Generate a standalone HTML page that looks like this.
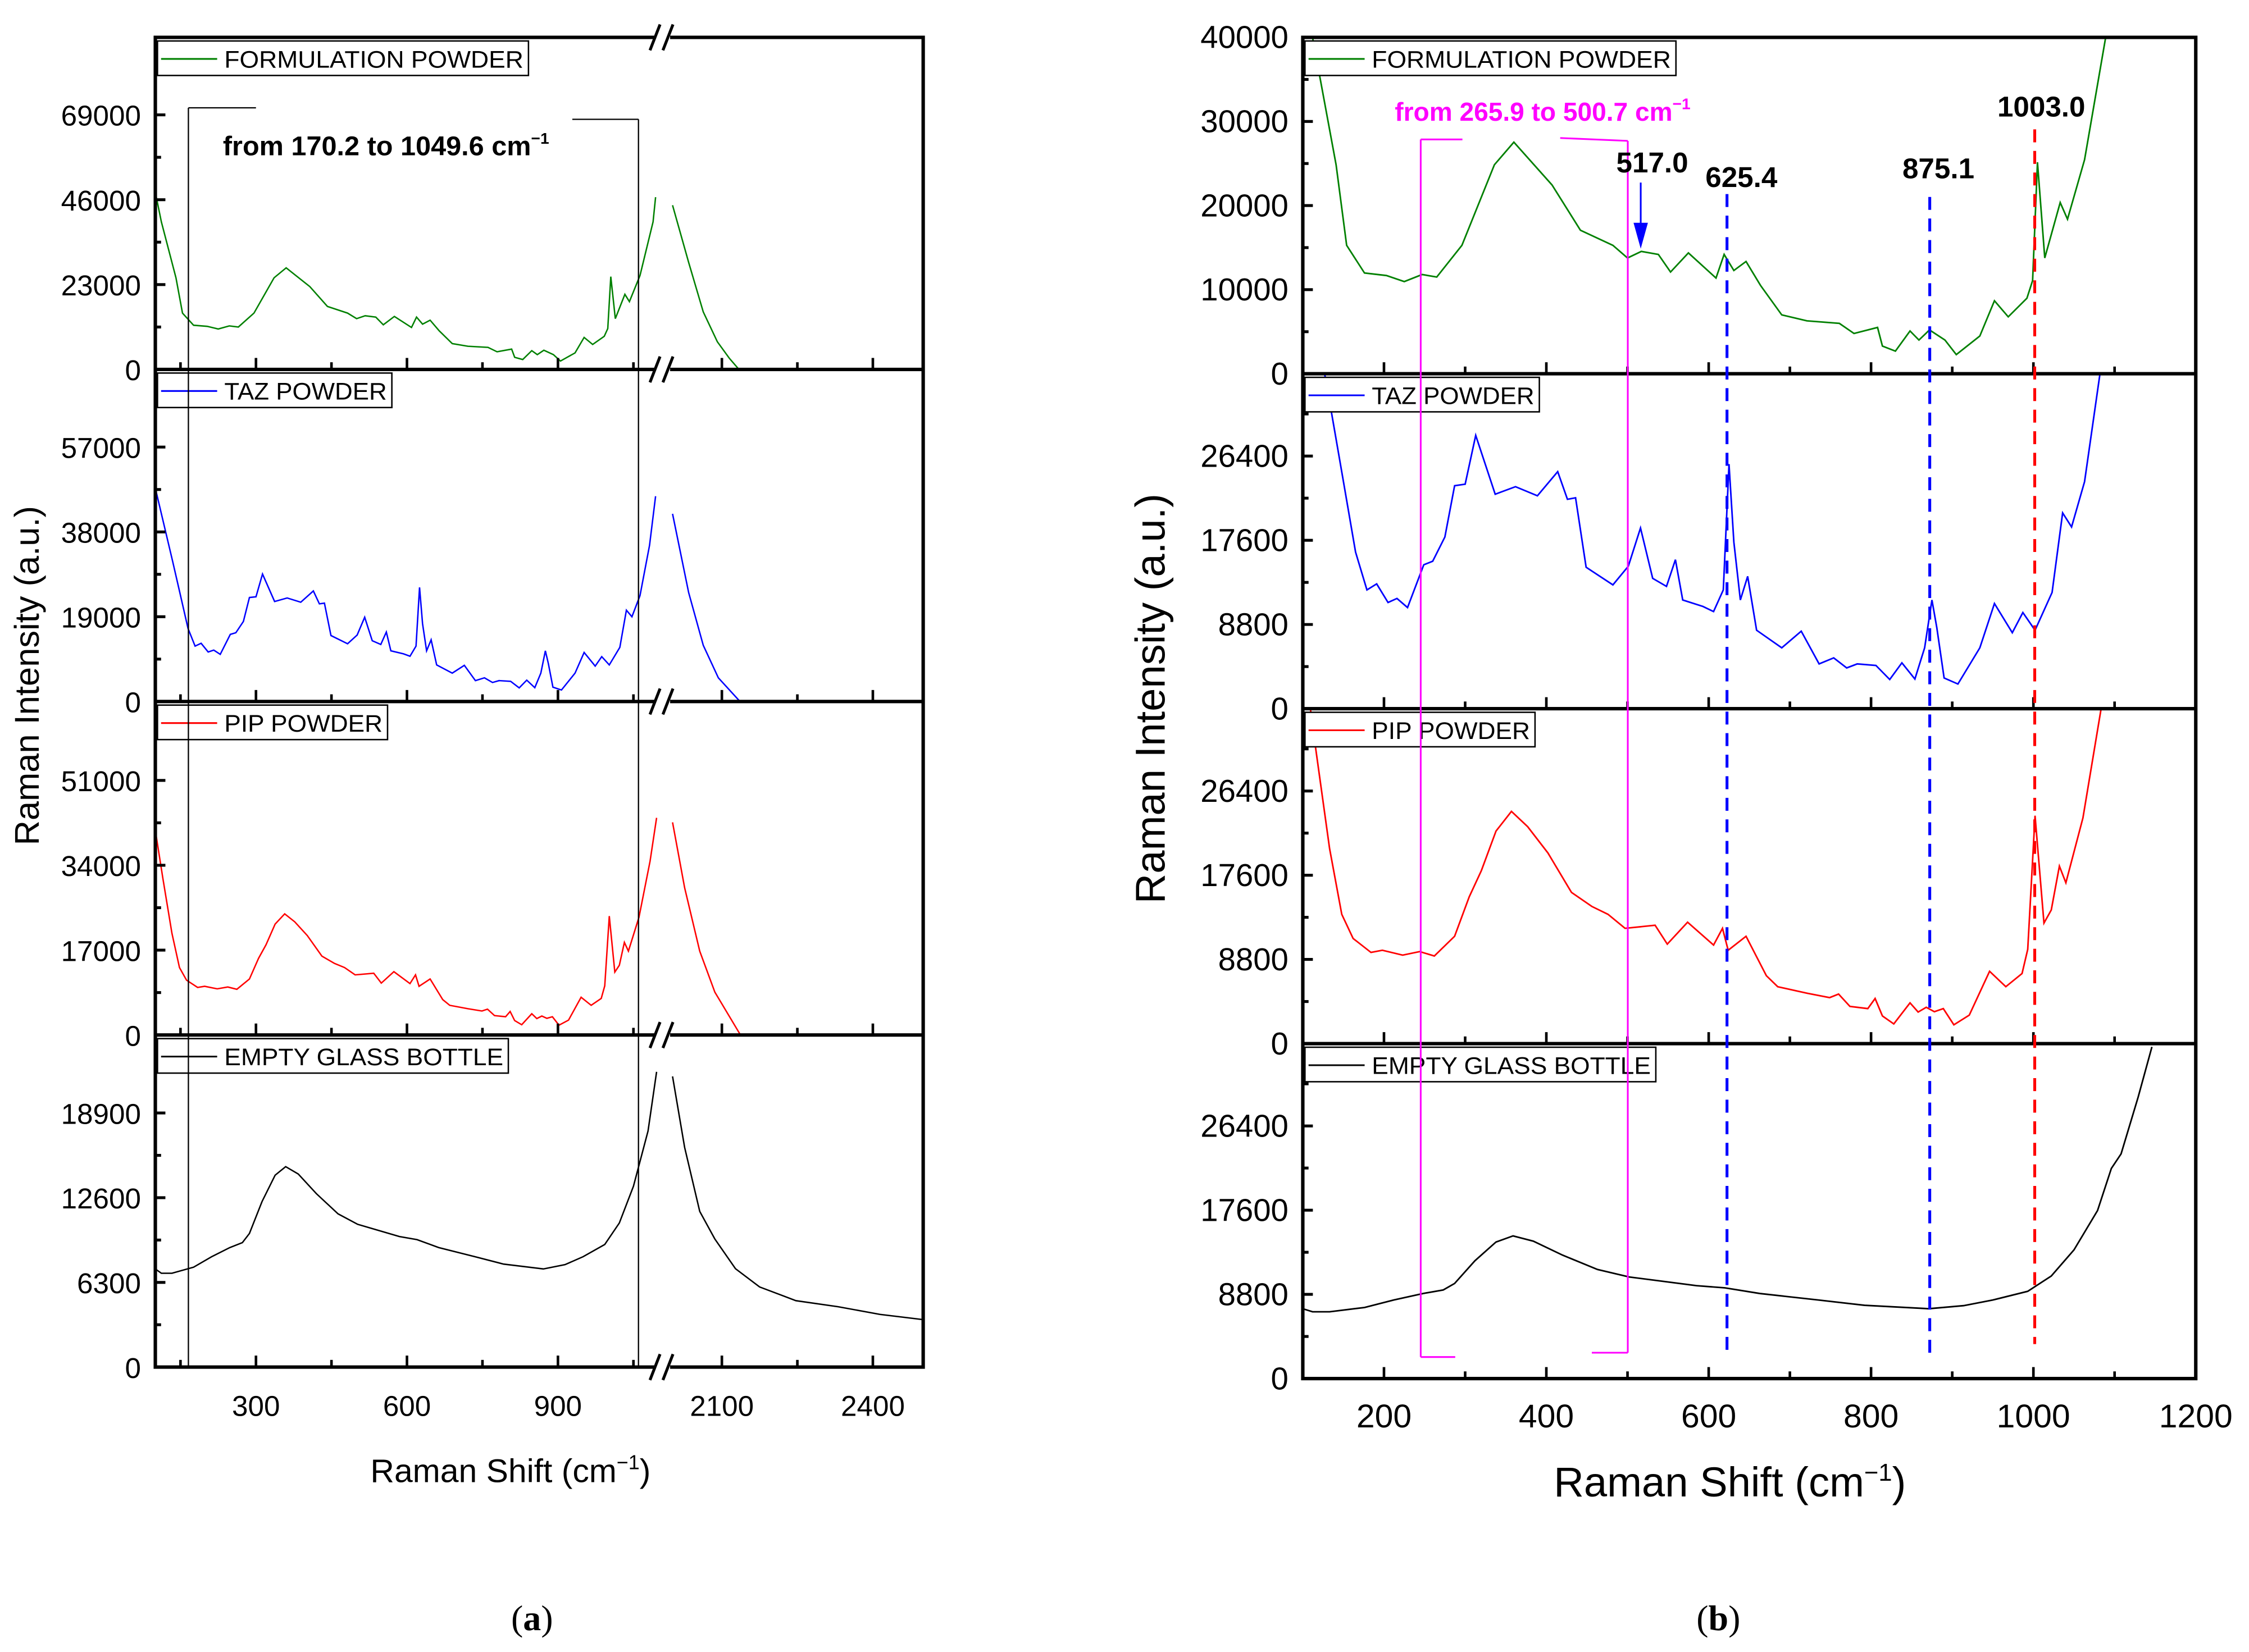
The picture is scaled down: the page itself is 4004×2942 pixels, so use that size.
<!DOCTYPE html>
<html><head><meta charset="utf-8"><style>
html,body{margin:0;padding:0;background:#fff;}
svg{display:block;}
text{font-family:"Liberation Sans",Arial,sans-serif;}
</style></head><body>
<svg id="fig" xmlns="http://www.w3.org/2000/svg" width="4004" height="2942" viewBox="0 0 1564 1149.2">
<rect x="0" y="0" width="1564" height="1149.2" fill="#fff"/>
<defs>
<clipPath id="cl1"><rect x="108" y="26" width="534" height="231"/></clipPath>
<clipPath id="cl2"><rect x="108" y="257" width="534" height="231"/></clipPath>
<clipPath id="cl3"><rect x="108" y="488" width="534" height="232"/></clipPath>
<clipPath id="cl4"><rect x="108" y="720" width="534" height="231"/></clipPath>
<clipPath id="cr1"><rect x="906" y="26" width="621" height="234"/></clipPath>
<clipPath id="cr2"><rect x="906" y="260" width="621" height="233"/></clipPath>
<clipPath id="cr3"><rect x="906" y="493" width="621" height="233"/></clipPath>
<clipPath id="cr4"><rect x="906" y="726" width="621" height="233"/></clipPath>
</defs>
<g id="layer-curves"></g>
<g id="layer-axes"></g>

<g stroke="#000" stroke-width="0.9" fill="none">
<line x1="131" y1="75" x2="131" y2="951"/><line x1="131" y1="75" x2="178" y2="75"/>
<line x1="444" y1="83" x2="444" y2="951"/><line x1="398" y1="83" x2="444" y2="83"/>
</g>
<text x="155" y="108" font-size="19" font-weight="bold">from 170.2  to 1049.6 cm<tspan font-size="11" dy="-8">−1</tspan></text>

<g stroke="#ff00ff" stroke-width="1.2" fill="none">
<line x1="988" y1="97" x2="988" y2="944"/><line x1="988" y1="97" x2="1017" y2="97"/><line x1="988" y1="944" x2="1012" y2="944"/>
<line x1="1132" y1="98" x2="1132" y2="941"/><line x1="1085" y1="96" x2="1132" y2="98"/><line x1="1107" y1="941" x2="1132" y2="941"/>
</g>
<text x="970" y="84" font-size="18" font-weight="bold" fill="#ff00ff">from 265.9 to 500.7 cm<tspan font-size="11" dy="-8">−1</tspan></text>
<g fill="none" stroke-width="2" stroke-dasharray="9,6">
<line x1="1201" y1="135" x2="1201" y2="940" stroke="#0000ff"/>
<line x1="1342" y1="137" x2="1342" y2="942" stroke="#0000ff"/>
<line x1="1415" y1="90" x2="1415" y2="935" stroke="#ff0000"/>
</g>
<g><line x1="1141" y1="127" x2="1141" y2="160" stroke="#0000ff" stroke-width="1.2"/><polygon points="1136,155 1146,155 1141,173" fill="#0000ff"/></g>
<g font-size="20" font-weight="bold">
<text x="1124" y="120">517.0</text>
<text x="1186" y="130">625.4</text>
<text x="1323" y="124">875.1</text>
<text x="1389" y="81">1003.0</text>
</g>

<text x="355" y="1031" font-size="23" text-anchor="middle">Raman Shift (cm<tspan font-size="14" dy="-9">−1</tspan><tspan dy="9">)</tspan></text>
<text transform="translate(27,470) rotate(-90)" font-size="24" text-anchor="middle">Raman Intensity (a.u.)</text>
<text x="1203" y="1041" font-size="29" text-anchor="middle">Raman Shift (cm<tspan font-size="17" dy="-11">−1</tspan><tspan dy="11">)</tspan></text>
<text transform="translate(810,486) rotate(-90)" font-size="29" text-anchor="middle">Raman Intensity (a.u.)</text>
<text x="370" y="1134" font-size="25" text-anchor="middle" style="font-family:'Liberation Serif',serif">(<tspan font-weight="bold">a</tspan>)</text>
<text x="1195" y="1134" font-size="25" text-anchor="middle" style="font-family:'Liberation Serif',serif">(<tspan font-weight="bold">b</tspan>)</text>
</svg>
<script>
const formShift = [100,112,141,154,176,203,225,247,265,296,336,360,407,442,482,500,517,538,553,575,609,619,631,646,664,690,721,761,779,808,814,830,848,859,872,891,905,934,952,969,992,999,1005,1014,1033,1042,1063,1089,1094];
const formInt   = [48000,40000,24850,15270,11980,11680,10960,11800,11500,15270,24850,27540,22450,17070,15270,13770,14550,14190,12100,14370,11380,14190,12280,13350,10480,7000,6290,5990,4790,5510,3290,2690,5090,4010,5210,4010,2280,4490,8680,6770,8980,11080,25150,13770,20360,18380,25450,40000,46700];
const formTailShift = [2002,2034,2063,2091,2115,2134];
const formTailInt   = [44500,29000,15600,7500,3000,0];

const tazShift = [100,134,149,165,179,191,205,216,229,249,260,275,287,300,313,337,362,389,414,426,436,449,482,501,516,531,548,559,568,593,606,618,625,631,639,648,659,690,714,736,754,770,783,806,823,838,854,866,875,881,890,907,934,952,974,987,1002,1023,1036,1047,1063,1082,1094];
const tazInt   = [47800,31600,24250,16360,12410,13040,11100,11520,10570,15040,15410,17940,23300,23460,28560,22410,23200,22250,24770,21880,22040,14780,12940,14890,18880,13620,12780,15570,11360,10680,10150,12410,25560,17410,11360,13830,8200,6360,8100,4680,5310,4260,4680,4520,3050,4790,3100,6360,11360,8470,3210,2580,6360,10990,7940,10050,8200,12150,20460,18990,23720,35000,46000];
const tazTailShift = [2002,2034,2063,2093,2136];
const tazTailInt   = [42050,24400,12600,5300,0];

const pipShift = [100,115,133,148,162,184,198,223,244,262,287,305,320,338,357,377,402,431,456,476,497,534,549,574,606,617,624,646,671,685,721,749,760,774,796,805,814,828,848,858,868,878,889,902,921,946,966,986,993,1002,1013,1022,1032,1040,1061,1083,1096];
const pipInt   = [41000,31370,20380,13510,10990,9530,9760,9250,9620,9160,11220,15340,18090,22210,24270,22670,19920,15800,14340,13510,12050,12370,10400,12690,10300,12050,9760,11220,7100,5950,5270,4810,5180,3890,3660,4720,2890,2060,4260,3300,3800,3340,3660,1970,2980,7560,5950,7330,9850,23820,12600,13970,18550,16810,23590,34800,43500];
const pipTailShift = [2002,2026,2056,2086,2137];
const pipTailInt   = [42600,29500,16800,8600,0];

const bottleShift = [100,112,133,176,212,248,273,287,312,338,359,384,420,463,502,535,585,620,663,735,792,871,914,950,993,1022,1050,1079,1096,1108,1129,1146];
const bottleInt   = [7300,6980,6980,7430,8210,8890,9260,9940,12310,14270,14910,14360,12900,11400,10620,10260,9710,9480,8890,8210,7660,7300,7620,8210,9120,10720,13450,17560,21960,23480,29410,34660];
const bottleTailShift = [2002,2026,2056,2086,2127,2175,2247,2331,2414,2498];
const bottleTailInt   = [21620,16340,11580,9530,7320,5960,4940,4490,3920,3540];

const leftXTicks = [300,600,900,2100,2400];
const leftXMinor = [150,450,750,1050,2250];
const rightXTicks = [200,400,600,800,1000,1200];
const rightXMinor = [300,500,700,900,1100];
const leftYTicks = [[0,23000,46000,69000],[0,19000,38000,57000],[0,17000,34000,51000],[0,6300,12600,18900]];
const leftYMax = [90000,74400,66800,24700];
const rightYTicks = [[0,10000,20000,30000,40000],[0,8800,17600,26400],[0,8800,17600,26400],[0,8800,17600,26400]];
const rightYMax = [40000,35000,35000,35000];
const seriesNames = ["FORMULATION POWDER","TAZ POWDER","PIP POWDER","EMPTY GLASS BOTTLE"];
const seriesColors = ["#008000","#0000ff","#ff0000","#000000"];

const NS="http://www.w3.org/2000/svg";
const curves=document.getElementById('layer-curves');
const axes=document.getElementById('layer-axes');
function mk(tag,attrs,parent){const e=document.createElementNS(NS,tag);for(const k in attrs)e.setAttribute(k,attrs[k]);(parent||axes).appendChild(e);return e;}
const L={x0:108,x1:642,tops:[26,257,488,720],bots:[257,488,720,951]};
const R={x0:906,x1:1527,tops:[26,260,493,726],bots:[260,493,726,959]};
const BREAK=1100;
function xl(v){return v<=BREAK?108+(v-100)*0.35:502+(v-2100)*0.35;}
function xr(v){return 906+(v-100)*(621/1100);}
function yl(p,v){return L.bots[p]-v/leftYMax[p]*(L.bots[p]-L.tops[p]);}
function yr(p,v){return R.bots[p]-v/rightYMax[p]*(R.bots[p]-R.tops[p]);}

const data=[[formShift,formInt,formTailShift,formTailInt],[tazShift,tazInt,tazTailShift,tazTailInt],[pipShift,pipInt,pipTailShift,pipTailInt],[bottleShift,bottleInt,bottleTailShift,bottleTailInt]];
const snames=['formulation','taz','pip','bottle'];
data.forEach((d,p)=>{
  const col=seriesColors[p];
  const pts=[];
  d[0].forEach((v,i)=>{if(v<=BREAK)pts.push([xl(v),yl(p,d[1][i])]);});
  let s=pts.map((q,i)=>(i?'L':'M')+q[0].toFixed(2)+','+q[1].toFixed(2)).join('');
  let e=mk('path',{d:s,fill:'none',stroke:col,'stroke-width':1,'clip-path':'url(#cl'+(p+1)+')'},curves);
  
  
  s=d[2].map((v,i)=>(i?'L':'M')+xl(v).toFixed(2)+','+yl(p,d[3][i]).toFixed(2)).join('');
  e=mk('path',{d:s,fill:'none',stroke:col,'stroke-width':1,'clip-path':'url(#cl'+(p+1)+')'},curves);
  
  
  s=d[0].map((v,i)=>(i?'L':'M')+xr(v).toFixed(2)+','+yr(p,d[1][i]).toFixed(2)).join('');
  e=mk('path',{d:s,fill:'none',stroke:col,'stroke-width':1.1,'clip-path':'url(#cr'+(p+1)+')'},curves);
  
  
});

function panelAxes(C,side){
  const xf=side==='l'?xl:xr;
  for(let p=0;p<4;p++){
    const t=C.tops[p],b=C.bots[p];
    const yt=side==='l'?leftYTicks[p]:rightYTicks[p];
    const ym=side==='l'?leftYMax[p]:rightYMax[p];
    const yf=v=>b-v/ym*(b-t);
    yt.forEach((v,i)=>{
      const y=yf(v);
      const ln=mk('line',{x1:C.x0,x2:C.x0+7,y1:y,y2:y,stroke:'#000','stroke-width':2});
      
      
      const tx=mk('text',{x:C.x0-10,y:y+7.5,'font-size':side==='l'?20:22,'text-anchor':'end'});
      tx.textContent=v;
      
      
      const mv=v+(yt[1]-yt[0])/2;
      if(mv<ym){const my=yf(mv);mk('line',{x1:C.x0,x2:C.x0+4,y1:my,y2:my,stroke:'#000','stroke-width':2});}
    });
    const major=side==='l'?leftXTicks:rightXTicks, minor=side==='l'?leftXMinor:rightXMinor;
    major.forEach(v=>{const x=xf(v);if(x<=C.x1)mk('line',{x1:x,x2:x,y1:b,y2:b-8,stroke:'#000','stroke-width':1.8});});
    minor.forEach(v=>{const x=xf(v);mk('line',{x1:x,x2:x,y1:b,y2:b-5,stroke:'#000','stroke-width':1.8});});
    const wTxt=[208,113,110,194][p];
    const lg=mk('g',{});
    
    
    mk('rect',{x:C.x0+1.5,y:t+2.5,width:wTxt+50,height:24,fill:'#fff',stroke:'#000','stroke-width':1},lg);
    mk('line',{x1:C.x0+4,x2:C.x0+43,y1:t+15,y2:t+15,stroke:seriesColors[p],'stroke-width':1.2},lg);
    const lt=mk('text',{x:C.x0+48,y:t+21,'font-size':16.5,textLength:wTxt,lengthAdjust:'spacingAndGlyphs'},lg);
    lt.textContent=seriesNames[p];
  }
  const fr=mk('rect',{x:C.x0,y:C.tops[0],width:C.x1-C.x0,height:C.bots[3]-C.tops[0],fill:'none',stroke:'#000','stroke-width':2.4});
  
  
  for(let p=1;p<4;p++) mk('line',{x1:C.x0,x2:C.x1,y1:C.tops[p],y2:C.tops[p],stroke:'#000','stroke-width':2.4});
  const xt=side==='l'?leftXTicks:rightXTicks;
  xt.forEach(v=>{
    const tx=mk('text',{x:xf(v),y:side==='l'?985:993,'font-size':side==='l'?20:23,'text-anchor':'middle'});
    tx.textContent=v;
    
    
  });
}
panelAxes(L,'l');
panelAxes(R,'r');
[26,257,488,720,951].forEach(y=>{
  mk('rect',{x:456,y:y-3,width:10,height:6,fill:'#fff'});
  const g=mk('g',{stroke:'#000','stroke-width':2});
  
  
  mk('line',{x1:452,y1:y+9,x2:459,y2:y-9},g);
  mk('line',{x1:461,y1:y+9,x2:468,y2:y-9},g);
});
</script>
</body></html>
